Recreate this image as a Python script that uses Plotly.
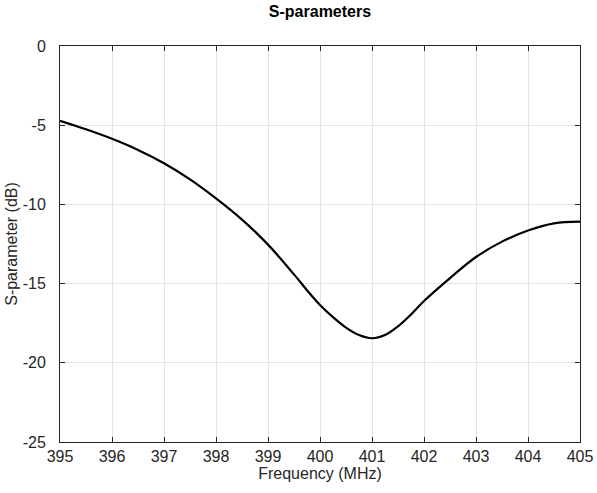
import plotly.graph_objects as go

freq_mhz = [395.0, 395.5, 396.0, 396.5, 397.0, 397.5, 398.0, 398.5, 399.0, 399.5,
            399.75, 400.0, 400.25, 400.5, 400.75, 401.0, 401.25, 401.5, 401.75, 402.0,
            402.5, 403.0, 403.5, 404.0, 404.5, 405.0]
s11_db = [-4.72, -5.26, -5.86, -6.56, -7.40, -8.42, -9.62, -10.96, -12.54, -14.42,
          -15.42, -16.35, -17.12, -17.78, -18.25, -18.45, -18.25, -17.7, -16.95, -16.1,
          -14.65, -13.32, -12.35, -11.65, -11.2, -11.09]

x_ticks = [395, 396, 397, 398, 399, 400, 401, 402, 403, 404, 405]
y_ticks = [0, -5, -10, -15, -20, -25]
y_tick_text = ["0", "-5", "-10", "-15", "-20", "-25"]

FONT = "Liberation Sans, Arial, sans-serif"

fig = go.Figure()
fig.add_trace(go.Scatter(x=freq_mhz, y=s11_db, mode="lines",
                         line=dict(color="black", width=2.2, shape="spline", smoothing=1.0),
                         showlegend=False, hoverinfo="skip"))

axis_common = dict(
    showline=True, linecolor="#262626", linewidth=1, mirror="allticks",
    ticks="inside", ticklen=5, tickwidth=1, tickcolor="#262626",
    showgrid=True, gridcolor="#e3e3e3", gridwidth=1, zeroline=False,
    automargin=False,
    tickfont=dict(family=FONT, size=16, color="#262626"),
)

fig.update_layout(
    width=597, height=493,
    margin=dict(l=60, r=17, t=46, b=51),
    paper_bgcolor="white", plot_bgcolor="white",
    title=dict(text="<b>S-parameters</b>", x=0.536, xanchor="center",
               yref="container", y=1 - 11.5 / 493, yanchor="middle",
               font=dict(family=FONT, size=16, color="black")),
    xaxis=dict(range=[395, 405], tickvals=x_ticks,
               title=dict(text="Frequency (MHz)", standoff=0,
                          font=dict(family=FONT, size=16, color="#262626")),
               **axis_common),
    yaxis=dict(range=[-25, 0], tickvals=y_ticks, ticktext=y_tick_text,
               ticklabelstandoff=10,
               title=dict(text="S-parameter (dB)", standoff=1,
                          font=dict(family=FONT, size=16, color="#262626")),
               **axis_common),
)

fig.write_html("out.html", config={"displayModeBar": False},
               post_script="document.body.style.margin='0px';")
